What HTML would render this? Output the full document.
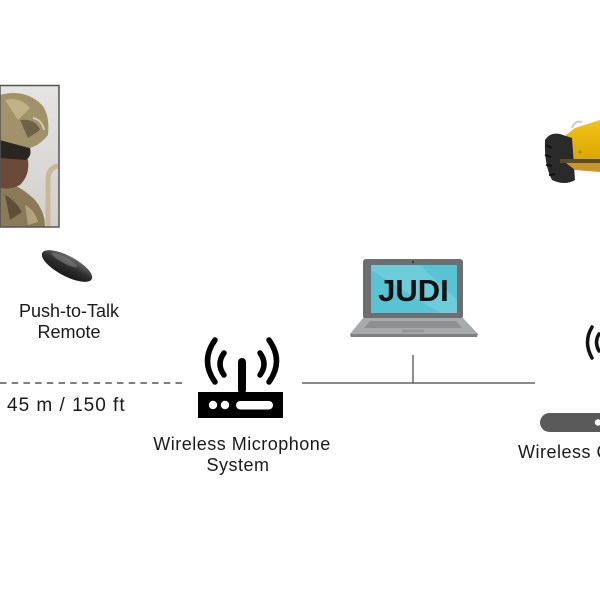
<!DOCTYPE html>
<html>
<head>
<meta charset="utf-8">
<style>
html,body{margin:0;padding:0;background:#fff;}
svg{display:block;}
text{font-family:"Liberation Sans",Arial,sans-serif;fill:#1a1a1a;}
</style>
</head>
<body>
<svg width="600" height="600" viewBox="0 0 600 600" xmlns="http://www.w3.org/2000/svg">
  <defs>
    <linearGradient id="bg" x1="0" y1="0" x2="0" y2="1">
      <stop offset="0" stop-color="#e4e4e2"/>
      <stop offset="1" stop-color="#d2d0cc"/>
    </linearGradient>
    <linearGradient id="rem" x1="0" y1="0" x2="0" y2="1">
      <stop offset="0" stop-color="#6a6a6a"/>
      <stop offset="0.5" stop-color="#2e2e2e"/>
      <stop offset="1" stop-color="#1a1a1a"/>
    </linearGradient>
    <linearGradient id="yel" x1="0" y1="0" x2="0" y2="1">
      <stop offset="0" stop-color="#f2c419"/>
      <stop offset="1" stop-color="#d9a400"/>
    </linearGradient>
    <clipPath id="photo"><rect x="0" y="86" width="59" height="141"/></clipPath>
  </defs>

  <!-- Soldier photo -->
  <g clip-path="url(#photo)">
    <rect x="0" y="86" width="59" height="141" fill="url(#bg)"/>
    <!-- pole/rail -->
    <path d="M48 227 L48 180 Q48 168 58 166" fill="none" stroke="#c8b89a" stroke-width="5"/>
    <!-- body camo -->
    <path d="M0 180 Q20 185 35 200 Q45 212 45 227 L0 227 Z" fill="#8a7a58"/>
    <path d="M5 195 Q15 200 22 212 L10 220 Z" fill="#5e5038"/>
    <path d="M25 205 Q35 210 38 222 L28 225 Z" fill="#b3a27a"/>
    <!-- face -->
    <path d="M0 140 Q20 145 28 160 Q30 175 20 185 Q10 190 0 188 Z" fill="#6b4a38"/>
    <!-- goggles dark -->
    <path d="M0 140 L30 148 Q32 156 26 160 L0 158 Z" fill="#2b2622"/>
    <!-- helmet -->
    <path d="M0 95 Q25 88 42 105 Q50 115 48 135 Q40 145 30 148 L0 140 Z" fill="#a2926a"/>
    <path d="M5 100 Q20 96 30 108 L18 120 Z" fill="#c0b188"/>
    <path d="M20 120 Q35 118 40 130 L28 138 Z" fill="#6f6244"/>
    <path d="M33 118 Q42 120 44 130" fill="none" stroke="#d4cab0" stroke-width="2"/>
  </g>
  <rect x="0" y="85.5" width="59" height="141.5" fill="none" stroke="#555" stroke-width="1.5"/>

  <!-- Push-to-talk remote -->
  <g transform="rotate(28 67 266)">
    <ellipse cx="67" cy="266" rx="28" ry="10" fill="url(#rem)"/>
    <ellipse cx="62" cy="262" rx="14" ry="3" fill="#8a8a8a" opacity="0.5"/>
  </g>
  <text x="69" y="317" font-size="18" text-anchor="middle">Push-to-Talk</text>
  <text x="69" y="338" font-size="18" text-anchor="middle">Remote</text>

  <!-- dashed line -->
  <line x1="0" y1="383" x2="183" y2="383" stroke="#333" stroke-width="1.3" stroke-dasharray="6.5,5.2"/>
  <text x="7" y="411" font-size="19" letter-spacing="1">45 m / 150 ft</text>

  <!-- Router icon -->
  <g fill="none" stroke="#000" stroke-width="5.5" stroke-linecap="round">
    <path d="M215 340 Q200 361 215 382"/>
    <path d="M224 353 Q216 364 224 375"/>
    <path d="M269 340 Q284 361 269 382"/>
    <path d="M260 353 Q268 364 260 375"/>
  </g>
  <rect x="238" y="358" width="8" height="36" rx="4" fill="#000"/>
  <rect x="198" y="392" width="85" height="26" fill="#000"/>
  <circle cx="213" cy="405" r="4.2" fill="#fff"/>
  <circle cx="225" cy="405" r="4.2" fill="#fff"/>
  <rect x="236" y="401" width="37" height="8.5" rx="4.2" fill="#fff"/>
  <text x="242" y="450" font-size="18" text-anchor="middle" letter-spacing="0.5">Wireless Microphone</text>
  <text x="238" y="471" font-size="18" text-anchor="middle" letter-spacing="0.5">System</text>

  <!-- connector lines -->
  <line x1="302" y1="383" x2="535" y2="383" stroke="#444" stroke-width="1.2"/>
  <line x1="413" y1="355" x2="413" y2="383" stroke="#444" stroke-width="1.2"/>

  <!-- Laptop -->
  <rect x="363" y="259" width="100" height="60" rx="3" fill="#6c6e70"/>
  <rect x="371" y="265" width="86" height="48" fill="#58c3d3"/>
  <path d="M371 265 L420 265 L457 300 L457 313 L440 313 L371 270 Z" fill="#7dd3df" opacity="0.55"/>
  <circle cx="413" cy="262" r="1" fill="#222"/>
  <path d="M363 318 L463 318 L478 334 L350 334 Z" fill="#a7a9ab"/>
  <path d="M370 321 L456 321 L462 328 L364 328 Z" fill="#8d8f91"/>
  <rect x="402" y="329.5" width="22" height="3" fill="#949698"/>
  <path d="M350 334 L478 334 L477 337 L351 337 Z" fill="#7e8082"/>
  <text x="413.5" y="301" font-size="31" font-weight="bold" text-anchor="middle" fill="#111" style="fill:#111">JUDI</text>

  <!-- Robot (cropped at right edge) -->
  <path d="M566 135 L575 128 L600 120 L600 162 L566 162 Z" fill="url(#yel)"/>
  <path d="M572 128 Q575 120 582 122" fill="none" stroke="#ccc" stroke-width="2"/>
  <path d="M545 140 Q550 132 560 134 L572 138 L575 180 Q565 186 552 180 Q544 165 545 140 Z" fill="#2a2a2a"/>
  <g stroke="#111" stroke-width="2">
    <line x1="546" y1="145" x2="552" y2="148"/>
    <line x1="545" y1="155" x2="551" y2="157"/>
    <line x1="546" y1="165" x2="552" y2="166"/>
    <line x1="549" y1="175" x2="555" y2="174"/>
  </g>
  <rect x="560" y="159" width="40" height="4" fill="#5a4a30"/>
  <path d="M566 163 L600 163 L600 172 L575 170 Z" fill="#c9962a"/>
  <circle cx="580" cy="152" r="1.5" fill="#a8861a"/>

  <!-- right wireless icon (partial) -->
  <g fill="none" stroke="#111" stroke-width="3.5" stroke-linecap="round">
    <path d="M592 327 Q583 342 592 358"/>
    <path d="M599 334 Q594 342 599 351"/>
  </g>

  <!-- right pill device -->
  <rect x="540" y="413" width="80" height="19" rx="9.5" fill="#5a5a5a"/>
  <circle cx="598" cy="422.5" r="3.2" fill="#fff"/>
  <text x="518" y="458" font-size="18" letter-spacing="0.5">Wireless C</text>
</svg>
</body>
</html>
